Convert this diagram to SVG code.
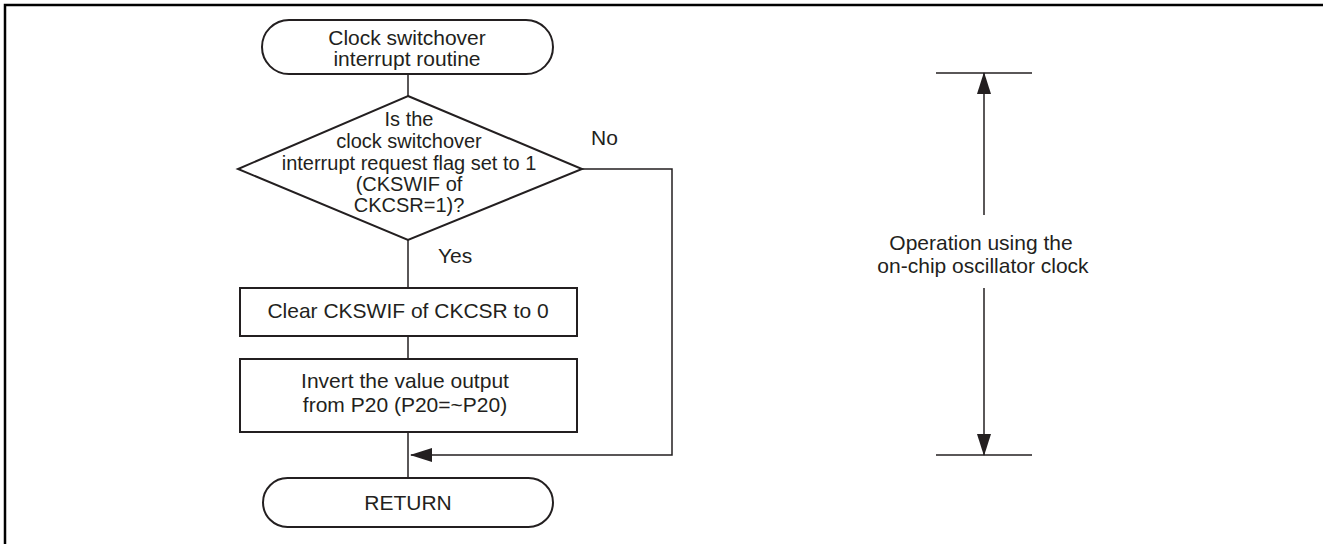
<svg xmlns="http://www.w3.org/2000/svg" width="1323" height="544" viewBox="0 0 1323 544">
<style>
.t{font-family:"Liberation Sans",Arial,Helvetica,sans-serif;font-size:21px;fill:#231f20;text-anchor:middle}
.d{font-size:20px}
.s{fill:#fff;stroke:#231f20;stroke-width:2}
.c{fill:none;stroke:#231f20;stroke-width:1.5}
</style>
<defs>
<marker id="ah" markerWidth="22" markerHeight="14" refX="21" refY="7" orient="auto" markerUnits="userSpaceOnUse">
<path d="M0,0 L22,7 L0,14 Z" fill="#231f20"/>
</marker>
</defs>
<path d="M5,544 V5 H1323" fill="none" stroke="#000" stroke-width="2.5"/>
<g id="connectors">
<line class="c" x1="408" y1="74" x2="408" y2="96"/>
<line class="c" x1="408" y1="240" x2="408" y2="288"/>
<line class="c" x1="408" y1="336" x2="408" y2="359"/>
<line class="c" x1="408" y1="432" x2="408" y2="478"/>
<polyline class="c" points="582,169 672,169 672,455 411,455" marker-end="url(#ah)"/>
<text class="t" x="591" y="145" style="text-anchor:start">No</text>
<text class="t" x="438" y="263" style="text-anchor:start">Yes</text>
</g>
<g id="start">
<rect class="s" x="262" y="20" width="291" height="54" rx="27" ry="27"/>
<text class="t" x="407" y="45">Clock switchover</text>
<text class="t" x="407" y="66">interrupt routine</text>
</g>
<g id="decision">
<polygon class="s" points="408,96 582,169 408,240 238,169"/>
<text class="t d" x="409" y="126">Is the</text>
<text class="t d" x="409" y="147.5">clock switchover</text>
<text class="t d" x="409" y="169.5">interrupt request flag set to 1</text>
<text class="t d" x="409" y="191">(CKSWIF of</text>
<text class="t d" x="409" y="212">CKCSR=1)?</text>
</g>
<g id="clear">
<rect class="s" x="240" y="288" width="337" height="48"/>
<text class="t" x="408" y="318">Clear CKSWIF of CKCSR to 0</text>
</g>
<g id="invert">
<rect class="s" x="240" y="359" width="337" height="73"/>
<text class="t" x="405" y="388">Invert the value output</text>
<text class="t" x="405" y="412">from P20 (P20=~P20)</text>
</g>
<g id="return">
<rect class="s" x="263" y="478" width="290" height="49" rx="24.5" ry="24.5"/>
<text class="t" x="408" y="510">RETURN</text>
</g>
<g id="span">
<line class="c" x1="936" y1="73" x2="1032" y2="73"/>
<line class="c" x1="936" y1="455" x2="1032" y2="455"/>
<line class="c" x1="984" y1="215" x2="984" y2="73" marker-end="url(#ah)"/>
<line class="c" x1="984" y1="288" x2="984" y2="455" marker-end="url(#ah)"/>
<text class="t" x="981" y="250">Operation using the</text>
<text class="t" x="983" y="273">on-chip oscillator clock</text>
</g>
</svg>
